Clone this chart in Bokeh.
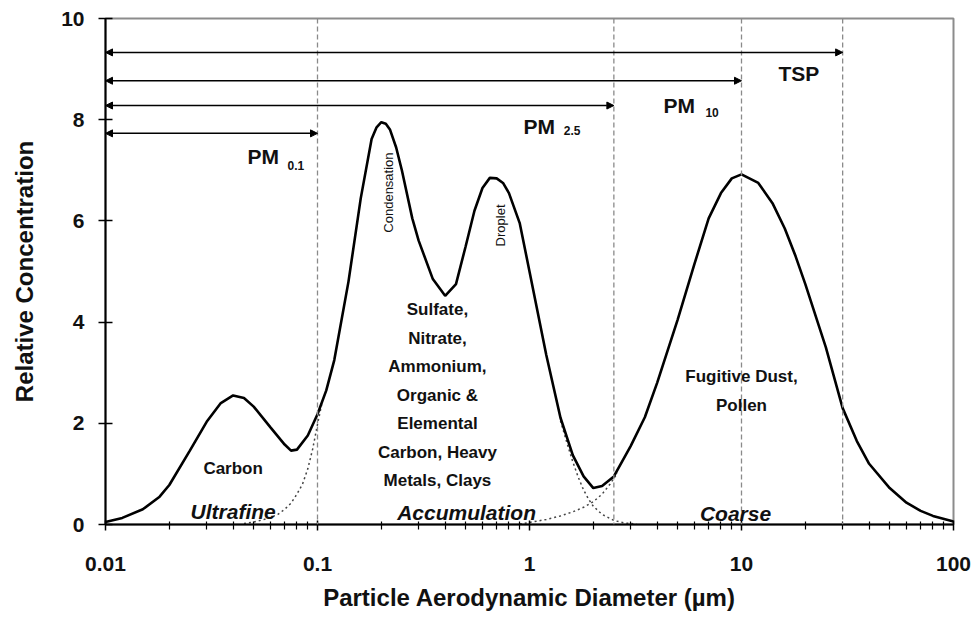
from bokeh.plotting import figure
from bokeh.models import (FixedTicker, CustomJSTickFormatter, Span, Arrow,
                          NormalHead, Label)
from bokeh.embed import file_html
from bokeh.resources import INLINE

# Total particle size distribution: aerodynamic diameter (µm) vs relative concentration
diameter = [0.01, 0.012, 0.015, 0.018, 0.02, 0.025, 0.03, 0.035, 0.04, 0.045,
            0.05, 0.06, 0.07, 0.075, 0.08, 0.09, 0.1, 0.11, 0.12, 0.14, 0.16,
            0.18, 0.19, 0.2, 0.21, 0.22, 0.235, 0.25, 0.28, 0.3, 0.35, 0.4,
            0.45, 0.5, 0.55, 0.6, 0.65, 0.7, 0.75, 0.8, 0.9, 1.0, 1.2, 1.4,
            1.6, 1.8, 2.0, 2.2, 2.5, 3, 3.5, 4, 5, 6, 7, 8, 9, 10, 12, 14, 16,
            18, 20, 25, 30, 35, 40, 50, 60, 70, 80, 100]
concentration = [0.05, 0.13, 0.30, 0.55, 0.78, 1.46, 2.03, 2.40, 2.55, 2.50,
                 2.33, 1.92, 1.58, 1.46, 1.48, 1.76, 2.18, 2.65, 3.25, 4.80,
                 6.45, 7.62, 7.85, 7.95, 7.92, 7.80, 7.45, 7.00, 6.05, 5.61,
                 4.85, 4.52, 4.75, 5.50, 6.20, 6.65, 6.85, 6.84, 6.75, 6.55,
                 5.95, 5.00, 3.35, 2.11, 1.37, 0.95, 0.72, 0.76, 0.95, 1.55,
                 2.12, 2.80, 4.05, 5.15, 6.05, 6.55, 6.84, 6.92, 6.75, 6.35,
                 5.85, 5.30, 4.75, 3.50, 2.30, 1.65, 1.20, 0.72, 0.43, 0.27,
                 0.17, 0.06]

# Overlapping mode tails (dotted)
accum_left_d = [0.045, 0.05, 0.055, 0.06, 0.065, 0.07, 0.075, 0.08, 0.085,
                0.09, 0.095, 0.1, 0.105]
accum_left_c = [0.02, 0.05, 0.09, 0.14, 0.20, 0.30, 0.42, 0.60, 0.80, 1.10,
                1.50, 1.98, 2.40]
accum_right_d = [1.4, 1.5, 1.6, 1.7, 1.8, 1.9, 2.0, 2.2, 2.5, 2.8, 3.2]
accum_right_c = [2.05, 1.62, 1.24, 0.93, 0.68, 0.50, 0.36, 0.20, 0.08, 0.03,
                 0.01]
coarse_left_d = [0.9, 1.0, 1.2, 1.4, 1.6, 1.8, 2.0, 2.2, 2.4, 2.6]
coarse_left_c = [0.01, 0.04, 0.10, 0.17, 0.25, 0.34, 0.45, 0.60, 0.80, 1.02]

# Size cuts and their labels
cut_sizes = [0.1, 2.5, 10, 30]
cut_names = ["PM", "PM", "PM", "TSP"]
cut_subs = ["0.1", "2.5", "10", ""]

x_ticks = [0.01, 0.1, 1, 10, 100]
y_ticks = [0, 2, 4, 6, 8, 10]

FONT = "Liberation Sans"
INK = "#111111"

p = figure(width=978, height=622, x_axis_type="log",
           x_range=(0.01, 100), y_range=(0, 10),
           output_backend="svg", toolbar_location=None,
           min_border_left=105, min_border_right=25,
           min_border_top=18, min_border_bottom=98)

p.xgrid.visible = False
p.ygrid.visible = False
p.background_fill_color = "white"
p.border_fill_color = "white"
p.outline_line_color = "#8c8c8c"
p.outline_line_width = 2

# Axes
minor = [m * 10.0 ** e for e in range(-2, 2) for m in range(2, 10)]
p.xaxis.ticker = FixedTicker(ticks=x_ticks, minor_ticks=minor)
p.xaxis.formatter = CustomJSTickFormatter(
    code="return (+tick.toPrecision(6)).toString();")
p.yaxis.ticker = FixedTicker(ticks=y_ticks, minor_ticks=[])

for ax in (p.xaxis[0], p.yaxis[0]):
    ax.axis_line_color = "black"
    ax.axis_line_width = 2
    ax.major_tick_line_color = "black"
    ax.major_tick_line_width = 1.5
    ax.minor_tick_line_color = "black"
    ax.minor_tick_line_width = 1.2
    ax.major_label_text_font = FONT
    ax.major_label_text_font_style = "bold"
    ax.major_label_text_font_size = "21px"
    ax.major_label_text_color = INK
    ax.axis_label_text_font = FONT
    ax.axis_label_text_font_style = "bold"
    ax.axis_label_text_font_size = "24px"
    ax.axis_label_text_color = INK

p.xaxis.major_tick_in = 4
p.xaxis.major_tick_out = 6
p.xaxis.minor_tick_in = 3
p.xaxis.minor_tick_out = 5
p.xaxis.major_label_standoff = 26
p.xaxis.axis_label = "Particle Aerodynamic Diameter (µm)"
p.xaxis.axis_label_standoff = 10

p.yaxis.major_tick_in = 7
p.yaxis.major_tick_out = 7
p.yaxis.major_label_standoff = 14
p.yaxis.axis_label = "Relative Concentration"
p.yaxis.axis_label_standoff = 20

# Size-cut boundaries
for d in cut_sizes:
    p.add_layout(Span(location=d, dimension="height", line_color="#8a8a8a",
                      line_width=1.3, line_dash="5 3"))

# Size-range arrows
arrow_levels = [7.73, 8.28, 8.77, 9.33]
for d, lvl in zip(cut_sizes, arrow_levels):
    p.add_layout(Arrow(
        start=NormalHead(size=7, fill_color="black", line_color="black"),
        end=NormalHead(size=7, fill_color="black", line_color="black"),
        x_start=0.01, y_start=lvl, x_end=d, y_end=lvl,
        line_color="black", line_width=1.5))

# Size-cut labels
name_pos = [(0.0468, 7.27), (0.937, 7.87), (4.29, 8.28), (14.95, 8.91)]
sub_pos = [(0.0722, 7.09), (1.45, 7.79), (6.76, 8.14), (None, None)]
for name, sub, (nx, ny), (sx, sy) in zip(cut_names, cut_subs, name_pos, sub_pos):
    p.add_layout(Label(x=nx, y=ny, text=name, text_font=FONT,
                       text_font_style="bold", text_font_size="21px",
                       text_color=INK, text_align="left",
                       text_baseline="middle"))
    if sub:
        p.add_layout(Label(x=sx, y=sy, text=sub, text_font=FONT,
                           text_font_style="bold", text_font_size="12px",
                           text_color=INK, text_align="left",
                           text_baseline="middle"))

# Distribution curves
p.line(accum_left_d, accum_left_c, line_color="#444444", line_width=1.5,
       line_dash="2 3")
p.line(accum_right_d, accum_right_c, line_color="#444444", line_width=1.5,
       line_dash="2 3")
p.line(coarse_left_d, coarse_left_c, line_color="#444444", line_width=1.5,
       line_dash="2 3")
p.line(diameter, concentration, line_color="black", line_width=2.6)


def note(x, y, text, size="17px", style="bold", angle=0.0, lh=1.5):
    p.add_layout(Label(x=x, y=y, text=text, text_font=FONT,
                       text_font_style=style, text_font_size=size,
                       text_color=INK, text_align="center",
                       text_baseline="middle", angle=angle,
                       text_line_height=lh))


note(0.04, 1.11, "Carbon")
note(0.368, 2.55, "Sulfate,\nNitrate,\nAmmonium,\nOrganic &\nElemental\n"
                  "Carbon, Heavy\nMetals, Clays")
note(10.0, 2.64, "Fugitive Dust,\nPollen")
note(0.216, 6.56, "Condensation", size="13px", style="normal", angle=1.5708)
note(0.73, 5.91, "Droplet", size="13px", style="normal", angle=1.5708)
note(0.04, 0.26, "Ultrafine", size="21px", style="bold italic")
note(0.505, 0.24, "Accumulation", size="21px", style="bold italic")
note(9.37, 0.22, "Coarse", size="21px", style="bold italic")

open("out.html", "w").write(file_html(p, INLINE))
